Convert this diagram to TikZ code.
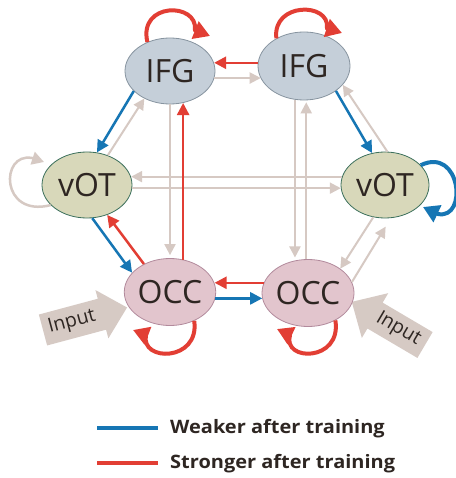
\documentclass[tikz,border=0pt]{standalone}
\usepackage{fontspec}
\setmainfont{Open Sans}
\newfontfamily\legendfont{Open Sans}[FakeStretch=1.08]
\usetikzlibrary{arrows.meta,shapes.geometric,calc}
\definecolor{ifgfill}{RGB}{197,207,217}
\definecolor{ifgline}{RGB}{135,148,160}
\definecolor{votfill}{RGB}{216,216,186}
\definecolor{votline}{RGB}{60,112,92}
\definecolor{occfill}{RGB}{226,197,205}
\definecolor{occline}{RGB}{178,138,156}
\definecolor{rd}{RGB}{226,62,52}
\definecolor{blu}{RGB}{22,118,180}
\definecolor{gry}{RGB}{214,201,195}
\definecolor{inpt}{RGB}{214,202,196}
\definecolor{txt}{RGB}{46,38,34}
\tikzset{
  region/.style={ellipse, inner sep=0pt, text=txt, font=\fontsize{32}{32}\selectfont},
  ifg/.style={region, fill=ifgfill, draw=ifgline, line width=0.8pt, minimum width=90pt, minimum height=66pt},
  vot/.style={region, fill=votfill, draw=votline, line width=0.8pt, minimum width=90pt, minimum height=66pt},
  occ/.style={region, fill=occfill, draw=occline, line width=0.8pt, minimum width=91pt, minimum height=67pt},
  garrow/.style={draw=gry, line width=2pt, -{Triangle[length=11pt,width=11pt]}},
  barrow/.style={draw=blu, line width=2.5pt, -{Triangle[length=12pt,width=12pt]}},
  rarrow/.style={draw=rd, line width=2.5pt, -{Triangle[length=12pt,width=12pt]}},
  rloop/.style={draw=rd, line width=4pt, -{Triangle[length=16pt,width=18pt]}},
  bloop/.style={draw=blu, line width=4pt, -{Triangle[length=16pt,width=18pt]}},
  gloop/.style={draw=gry, line width=2.5pt, -{Triangle[length=12pt,width=13pt]}},
  inputarrow/.style={fill=inpt, draw=none},
  inputtext/.style={text=txt, font=\fontsize{19.5}{19.5}\selectfont, inner sep=0pt},
  legendtext/.style={anchor=west, text=txt, font=\legendfont\fontsize{18.5}{18.5}\selectfont\bfseries, inner sep=0pt},
}
\begin{document}
\begin{tikzpicture}[x=1pt,y=-1pt]
\useasboundingbox (0,0) rectangle (455,478);
\fill[white] (0,0) rectangle (455,478);

% input arrows
\begin{scope}[shift={(43,330)}, rotate=15]
  \fill[inputarrow] (0,-16) -- (61,-16) -- (61,-25) -- (87,0) -- (61,25) -- (61,16) -- (0,16) -- cycle;
  \node[inputtext, rotate=15] (inL) at (30,0) {Input};
\end{scope}
\begin{scope}[shift={(425,345)}, rotate=149.5]
  \fill[inputarrow] (0,-15) -- (58,-15) -- (58,-26) -- (85,0) -- (58,26) -- (58,15) -- (0,15) -- cycle;
  \node[inputtext, rotate=-30.5] (inR) at (31,0) {Input};
\end{scope}

% regions
\node[ifg] (ifgL) at (170,71) {IFG};
\node[ifg, minimum width=92pt, minimum height=68pt] (ifgR) at (304,66) {IFG};
\node[vot] (votL) at (87,185) {vOT};
\node[vot, minimum width=88pt] (votR) at (385,185) {vOT};
\node[occ] (occL) at (170,292) {OCC};
\node[occ, minimum width=92pt] (occR) at (308,293) {OCC};

% gray connections
\draw[garrow] (ifgL.-9) -- (ifgL.-9 -| ifgR.-164);
\draw[garrow, shorten >=3pt] (ifgL.south) -- (ifgL.south |- occL.north);
\draw[garrow, shorten >=3pt] (ifgR.-105) -- (ifgR.-105 |- occR.112);
\draw[garrow, shorten >=2pt] (occR.93) -- (occR.93 |- ifgR.-85);
\draw[garrow] (votR.169) -- (votR.169 -| votL.10);
\draw[garrow] (votL.-4) -- (votL.-4 -| votR.-176);
\draw[garrow] (votL.55) -- (ifgL.-133);
\draw[garrow] (votR.86) -- (ifgR.-26);
\draw[garrow] (votR.-110) -- (occR.37);
\draw[garrow, shorten >=10pt] (occR.14) -- (votR.-80);

% colored connections
\draw[rarrow] (ifgR.176) -- (ifgR.176 -| ifgL.10);
\draw[rarrow] (occL.68) -- (occL.68 |- ifgL.-68);
\draw[barrow] (ifgL.-151) -- (votL.73);
\draw[barrow] (ifgR.-38) -- (votR.112);
\draw[barrow] (votL.-81) -- (occL.153);
\draw[rarrow] (occL.133) -- (votL.-56);
\draw[rarrow] (occR.167) -- (occR.167 -| occL.11);
\draw[barrow] (occL.-8) -- (occL.-8 -| occR.-173);

% self loops
\coordinate (lfA) at (195,30); \coordinate (lfB) at (210,36);
\draw[rloop] (ifgL.128) .. controls (138,2) and (198,2) .. (lfA) -- (lfB);
\coordinate (rfA) at (327,28); \coordinate (rfB) at (342,33);
\draw[rloop] (ifgR.135) .. controls (272,2) and (330,2) .. (rfA) -- (rfB);
\coordinate (vbA) at (438,214); \coordinate (vbB) at (423,207);
\draw[bloop] (votR.29) .. controls (461,146) and (468,220) .. (vbA) -- (vbB);
\coordinate (vlA) at (32,158); \coordinate (vlB) at (44,162);
\draw[gloop] (votL.-151) .. controls (0,218) and (0,152) .. (vlA) -- (vlB);
\coordinate (olA) at (146,335); \coordinate (olB) at (133,330);
\draw[rloop] (occL.-50) .. controls (200,362) and (140,362) .. (olA) -- (olB);
\coordinate (orA) at (290,335); \coordinate (orB) at (277,329);
\draw[rloop] (occR.-45) .. controls (342,362) and (282,362) .. (orA) -- (orB);

% legend
\coordinate (lb1) at (97,428); \coordinate (lb2) at (158,428);
\coordinate (lr1) at (97,463); \coordinate (lr2) at (158,463);
\draw[blu, line width=4pt] (lb1) -- (lb2);
\draw[rd, line width=4pt] (lr1) -- (lr2);
\node[legendtext] (lgW) at (170,429) {Weaker after training};
\node[legendtext] (lgS) at (170,464) {Stronger after training};
\end{tikzpicture}
\end{document}
